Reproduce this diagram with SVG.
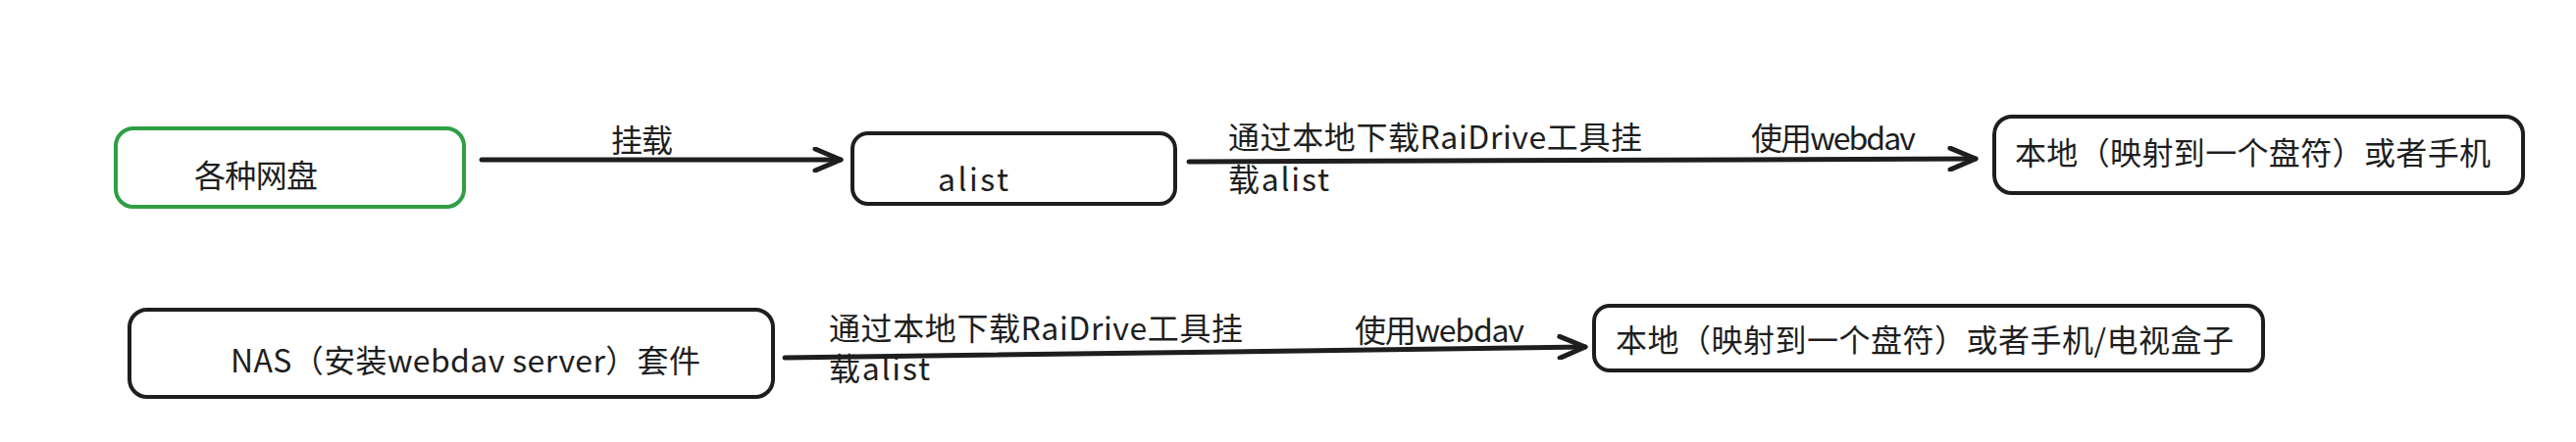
<svg xmlns="http://www.w3.org/2000/svg" width="2626" height="451" viewBox="0 0 2626 451">
<style>
.box{fill:#ffffff;stroke:#1e1e1e;stroke-width:4;}
.green{stroke:#2f9e44;}
.t{font-family:"Noto Sans CJK SC","Noto Sans",sans-serif;font-size:32px;fill:#1e1e1e;}
.edge{fill:none;stroke:#1e1e1e;stroke-width:5;stroke-linecap:round;}
</style>
<defs>
<marker id="arr" viewBox="0 0 32 26" refX="29" refY="13" markerWidth="32" markerHeight="26" markerUnits="userSpaceOnUse" orient="auto">
<path d="M3,2 L29,13 L3,24" fill="none" stroke="#1e1e1e" stroke-width="5" stroke-linecap="round" stroke-linejoin="round"/>
</marker>
</defs>
<rect width="2626" height="451" fill="#ffffff"/>
<g id="edges">
<path class="edge" d="M491,163 L857,163" marker-end="url(#arr)"/>
<path class="edge" d="M1212,165 L2014,162" marker-end="url(#arr)"/>
<path class="edge" d="M800,365 L1616,354" marker-end="url(#arr)"/>
<text class="t" x="623" y="155" textLength="63">挂载</text>
<text class="t" x="1252" y="152" textLength="422">通过本地下载RaiDrive工具挂</text>
<text class="t" x="1252" y="195" textLength="103">载alist</text>
<text class="t" x="1785" y="153" textLength="168">使用webdav</text>
<text class="t" x="845" y="347" textLength="422">通过本地下载RaiDrive工具挂</text>
<text class="t" x="845" y="388" textLength="103">载alist</text>
<text class="t" x="1381" y="349" textLength="173">使用webdav</text>
</g>
<g id="node-wangpan">
<rect class="box green" x="118" y="131" width="355" height="80" rx="18"/>
<text class="t" x="198" y="191" textLength="126">各种网盘</text>
</g>
<g id="node-alist">
<rect class="box" x="869" y="136" width="329" height="72" rx="16"/>
<text class="t" x="956" y="195" textLength="72">alist</text>
</g>
<g id="node-local1">
<rect class="box" x="2033" y="119" width="539" height="78" rx="18"/>
<text class="t" x="2054" y="168" textLength="485">本地（映射到一个盘符）或者手机</text>
</g>
<g id="node-nas">
<rect class="box" x="132" y="316" width="656" height="89" rx="18"/>
<text class="t" x="235" y="380" textLength="479">NAS（安装webdav server）套件</text>
</g>
<g id="node-local2">
<rect class="box" x="1625" y="312" width="682" height="66" rx="16"/>
<text class="t" x="1647" y="359" textLength="630">本地（映射到一个盘符）或者手机/电视盒子</text>
</g>
</svg>
